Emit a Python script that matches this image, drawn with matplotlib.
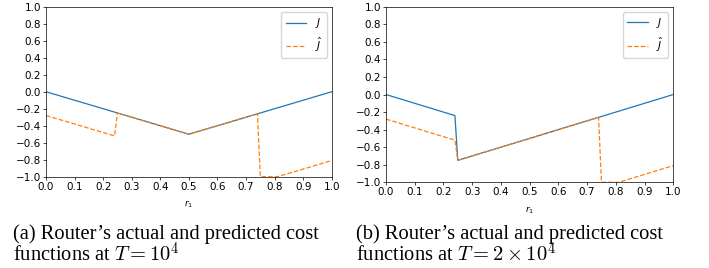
import numpy as np
import matplotlib.pyplot as plt

# panel (a): T = 1e4
r_a = [0.0, 0.5, 1.0]
J_a = [0.0, -0.5, 0.0]
r_hat_a = [0.0, 0.24, 0.25, 0.5, 0.74, 0.75, 0.81, 1.0]
J_hat_a = [-0.28, -0.52, -0.25, -0.5, -0.26, -1.0, -1.0, -0.81]

# panel (b): T = 2e4
r_b = [0.0, 0.24, 0.25, 1.0]
J_b = [0.0, -0.24, -0.75, 0.0]
r_hat_b = [0.0, 0.24, 0.25, 0.74, 0.75, 0.81, 1.0]
J_hat_b = [-0.28, -0.52, -0.75, -0.26, -1.0, -1.0, -0.81]

captions = [("(a) Router\u2019s actual and predicted cost", "functions at $T = 10^4$"),
            ("(b) Router\u2019s actual and predicted cost", "functions at $T = 2 \\times 10^4$")]

fig = plt.figure(figsize=(7.09, 2.68), dpi=100)
ax1 = fig.add_axes([0.0649, 0.3407, 0.403, 0.634])
ax2 = fig.add_axes([0.5444, 0.3198, 0.4052, 0.655])

panels = [(ax1, r_a, J_a, r_hat_a, J_hat_a), (ax2, r_b, J_b, r_hat_b, J_hat_b)]
for ax, r, J, rh, Jh in panels:
    ax.plot(r, J, color='#1f77b4', lw=0.9, label='$J$')
    ax.plot(rh, Jh, color='#ff7f0e', lw=0.9, ls=(0, (3.7, 1.6)), label='$\\hat{J}$')
    ax.set_xlim(0, 1)
    ax.set_ylim(-1, 1)
    ax.set_xticks(np.arange(0, 1.01, 0.1))
    ax.set_yticks(np.arange(-1, 1.01, 0.2))
    ax.tick_params(labelsize=7.5, length=2.1, width=0.5, pad=1.5)
    for s in ax.spines.values():
        s.set_linewidth(0.5)
    ax.set_xlabel('$r_1$', fontsize=6.5, labelpad=5)
    ax.legend(loc='upper right', fontsize=7.5, handlelength=2.0, borderpad=0.4,
              labelspacing=0.5, framealpha=0.8)

xs = [0.019, 0.502]
for x, (l1, l2) in zip(xs, captions):
    fig.text(x, 1 - 239 / 268, l1, fontsize=14.8, family='Liberation Serif',
             math_fontfamily='cm', va='baseline')
    fig.text(x, 1 - 262 / 268, l2, fontsize=14.8, family='Liberation Serif',
             math_fontfamily='cm', va='baseline')

fig.savefig('out.png', dpi=100)
